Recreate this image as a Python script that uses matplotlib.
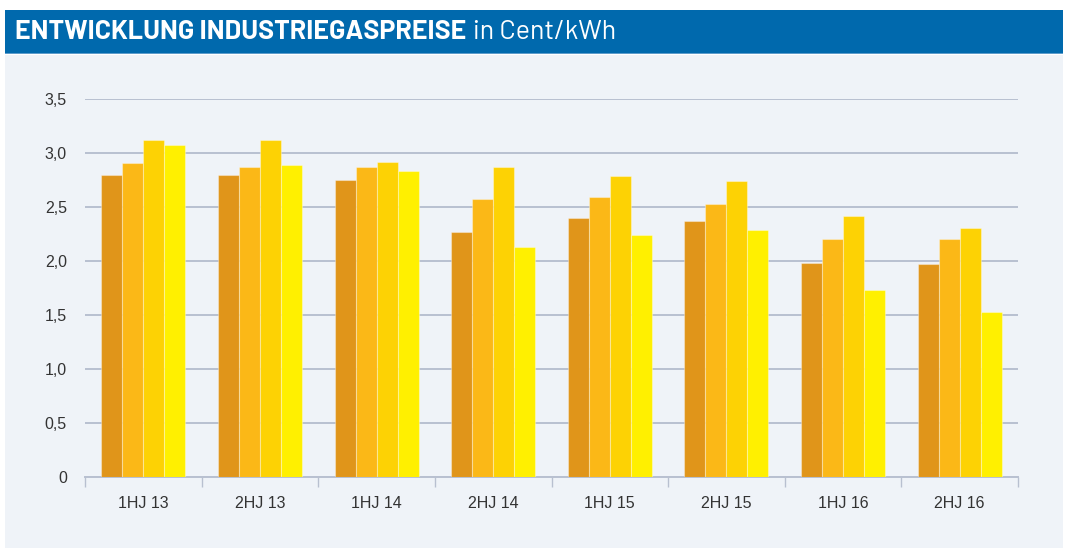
import matplotlib
matplotlib.use("Agg")
import matplotlib.pyplot as plt
from matplotlib.patches import Rectangle
import numpy as np

categories = ["1HJ 13", "2HJ 13", "1HJ 14", "2HJ 14", "1HJ 15", "2HJ 15", "1HJ 16", "2HJ 16"]
series_a = [2.80, 2.80, 2.75, 2.27, 2.40, 2.37, 1.98, 1.97]
series_b = [2.91, 2.87, 2.87, 2.57, 2.59, 2.53, 2.20, 2.20]
series_c = [3.12, 3.12, 2.92, 2.87, 2.79, 2.74, 2.42, 2.31]
series_d = [3.07, 2.89, 2.83, 2.13, 2.24, 2.29, 1.73, 1.53]
y_ticks = [0, 0.5, 1.0, 1.5, 2.0, 2.5, 3.0, 3.5]
y_tick_labels = ["0", "0,5", "1,0", "1,5", "2,0", "2,5", "3,0", "3,5"]

colors = ["#E0951A", "#FBB817", "#FDD204", "#FFF000"]
W, H = 1071, 550
fig = plt.figure(figsize=(W / 100, H / 100), dpi=100)
fig.patch.set_facecolor("white")

# panel background
fig.patches.append(Rectangle((5 / W, 1 - 548 / H), 1058 / W, 493 / H,
                             transform=fig.transFigure, facecolor="#EFF3F8",
                             edgecolor="none", zorder=-5))
# title band
fig.patches.append(Rectangle((5 / W, 1 - 53 / H), 1058 / W, 43 / H,
                             transform=fig.transFigure, facecolor="#0069AD",
                             edgecolor="none", zorder=-5))
fig.patches.append(Rectangle((5 / W, 1 - 54 / H), 1058 / W, 1.2 / H,
                             transform=fig.transFigure, facecolor="#5E9CCB",
                             edgecolor="none", zorder=-4))

title_fam = ["Barlow", "DejaVu Sans"]
sub_fam = ["Barlow", "DejaVu Sans"]
tick_fam = ["Liberation Sans", "DejaVu Sans"]

t1 = fig.text(15 / W, 1 - 32 / H, "ENTWICKLUNG INDUSTRIEGASPREISE", color="white",
              fontsize=19.3, fontweight="bold", family=title_fam, va="center", ha="left")
fig.canvas.draw()
bb = t1.get_window_extent()
fig.text((bb.x1 + 7) / W, 1 - 32 / H, "in Cent/kWh", color="white",
         fontsize=19.3, family=sub_fam, va="center", ha="left")

ax = fig.add_axes([85 / W, 1 - 477 / H, (1018 - 85) / W, (477 - 99) / H])
ax.set_facecolor("none")
x = np.arange(len(categories))
bw = 0.18
for j, s in enumerate([series_a, series_b, series_c, series_d]):
    ax.bar(x + (j - 1.5) * bw, s, width=bw, color=colors[j],
           edgecolor=(1, 1, 1, 0.35), linewidth=0.8, zorder=3)

ax.set_xlim(-0.5, len(categories) - 0.5)
ax.set_ylim(0, 3.5)
ax.set_yticks(y_ticks)
ax.set_yticklabels(y_tick_labels, family=tick_fam, fontsize=11.5, color="#333333")
ax.yaxis.grid(True, color="#B8C0D0", linewidth=1.4, zorder=1)
ax.set_axisbelow(True)
ax.tick_params(axis="y", length=0, pad=13)
ax.set_xticks(x)
ax.set_xticklabels(categories, family=tick_fam, fontsize=11.5, color="#333333")
ax.set_xticks(np.arange(len(categories) + 1) - 0.5, minor=True)
ax.tick_params(axis="x", which="major", length=0, pad=14)
ax.tick_params(axis="x", which="minor", length=7, color="#B8C0D0", width=1)
for sp in ["top", "right", "left"]:
    ax.spines[sp].set_visible(False)
ax.spines["bottom"].set_color("#B8C0D0")
ax.spines["bottom"].set_linewidth(1.4)

fig.savefig("out.png", dpi=100, facecolor=fig.get_facecolor())
